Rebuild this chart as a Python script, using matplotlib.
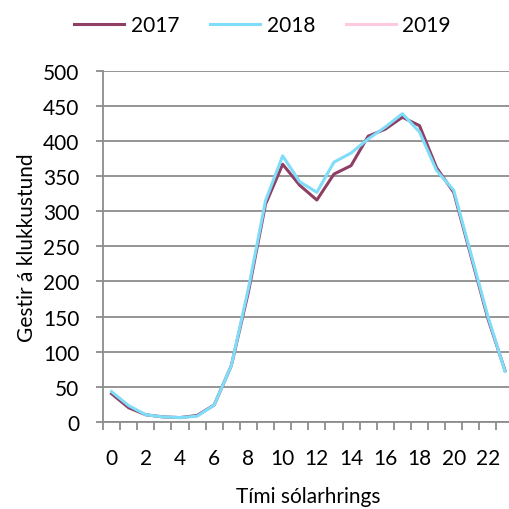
import matplotlib.pyplot as plt
import numpy as np

hours = list(range(24))
tick_labels = [str(h) if h % 2 == 0 else '' for h in hours]

visitors_2017 = [40, 20, 10, 7, 6, 9, 24, 80, 185, 310, 367, 337, 316, 353, 365,
                 407, 417, 434, 422, 362, 327, 237, 147, 73]
visitors_2018 = [43, 23, 10, 7, 6, 8, 24, 80, 190, 315, 379, 342, 327, 370, 383,
                 403, 420, 439, 413, 358, 330, 240, 150, 72]
visitors_2019 = []

colors = {'2017': '#8E3F63', '2018': '#80DDFA', '2019': '#FFCADF'}

plt.rcParams['font.family'] = ['Lato', 'DejaVu Sans']
fs = 15

fig = plt.figure(figsize=(5.1, 5.1), dpi=100)
ax = fig.add_axes([0.202, 0.171, 0.805, 0.688])

x = np.arange(len(hours))
ax.plot(x, visitors_2017, color=colors['2017'], lw=2.2, label='2017')
ax.plot(x, visitors_2018, color=colors['2018'], lw=2.2, label='2018')
ax.plot(x[:len(visitors_2019)], visitors_2019, color=colors['2019'], lw=2.2, label='2019')

ax.set_xlim(-0.5, 23.5)
ax.set_ylim(0, 500)
ax.set_yticks(range(0, 501, 50))
ax.yaxis.grid(True, color='#8C8C8C', lw=1.3)
ax.set_axisbelow(True)

ax.set_xticks(x)
ax.set_xticklabels(tick_labels)
ax.tick_params(axis='x', length=0, pad=19, labelsize=fs)
ax.set_xticks(np.arange(-0.5, 24, 1), minor=True)
ax.tick_params(axis='x', which='minor', length=6, color='#8C8C8C', width=1.3)
ax.tick_params(axis='y', length=5, color='#8C8C8C', width=1.3, labelsize=fs, pad=12)

for side in ['top', 'right']:
    ax.spines[side].set_visible(False)
for side in ['left', 'bottom']:
    ax.spines[side].set_color('#8C8C8C')
    ax.spines[side].set_linewidth(1.3)

ax.set_xlabel('Tími sólarhrings', fontsize=fs, labelpad=13)
ax.set_ylabel('Gestir á klukkustund', fontsize=fs, labelpad=4)

fig.legend(loc='upper center', bbox_to_anchor=(0.515, 1.005), ncol=3, frameon=False,
           fontsize=fs, handlelength=2.4, handletextpad=0.3, columnspacing=1.5)

fig.savefig('out.png', dpi=100)
